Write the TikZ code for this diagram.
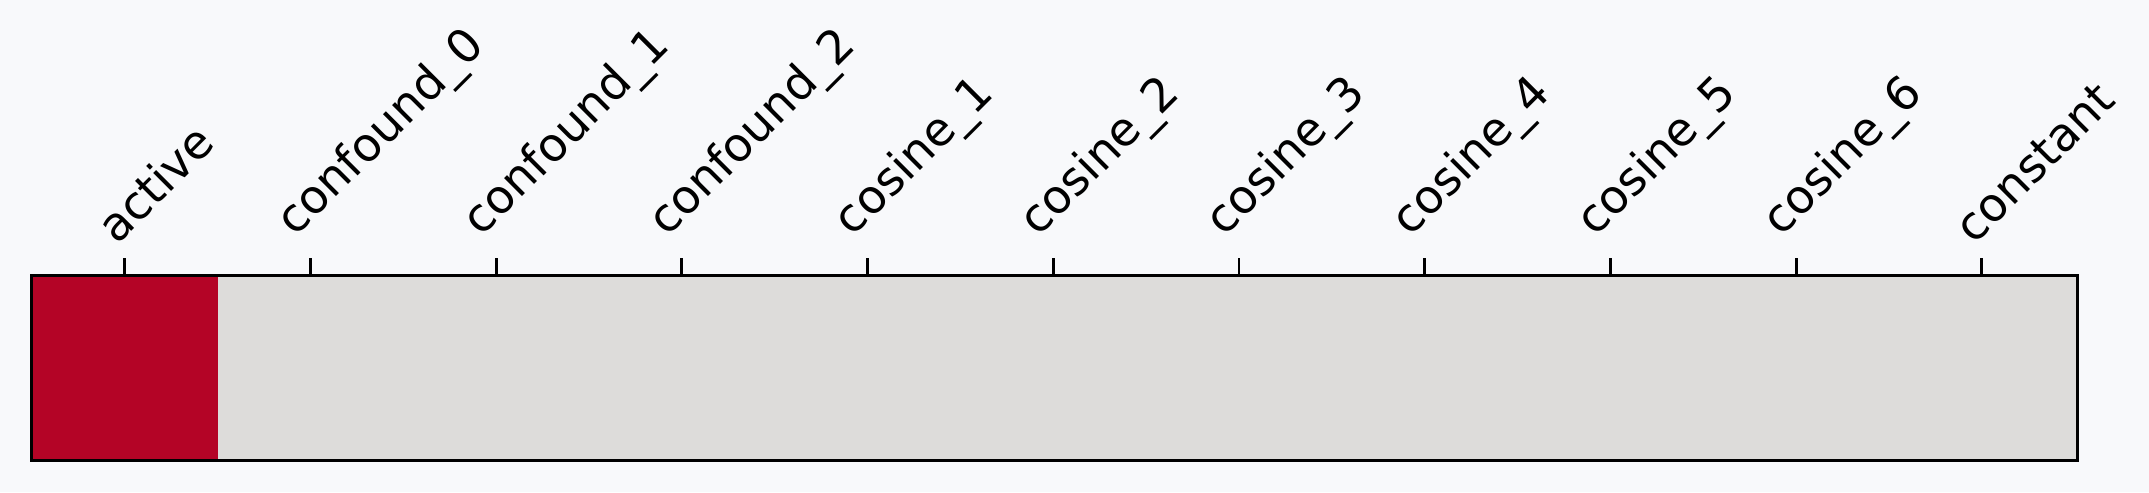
\documentclass[tikz,border=0pt]{standalone}
\usepackage{fontspec}
\setmainfont{DejaVu Sans}
\usetikzlibrary{calc}
\definecolor{bgcol}{HTML}{F8F9FB}
\definecolor{hot}{HTML}{B40426}
\definecolor{cold}{HTML}{DDDCDA}
\tikzset{
  ticklabel/.style={rotate=45, anchor=south west, inner sep=0pt, font=\fontsize{13.2}{15}\selectfont}
}
\begin{document}
\begin{tikzpicture}[x=0.0137cm, y=-0.0137cm]
        \fill[bgcol] (0, 0) rectangle (1568, 359);
        \useasboundingbox (0, 0) rectangle (1568, 359);

        % Cells:
        \fill[cold] (22, 200) rectangle (1515, 335);
        \fill[hot] (22, 200) rectangle (159, 335);
        \node[draw, line width=0.8pt, inner sep=0, minimum width=1493*0.0137cm, minimum height=135*0.0137cm, anchor=north west] (frame) at (22, 200) {};

        % Ticks and labels:
        \foreach \lbl [count=\i from 0] in {active, confound\_0, confound\_1, confound\_2, cosine\_1, cosine\_2, cosine\_3, cosine\_4, cosine\_5, cosine\_6, constant} {
          \coordinate (t\i) at (91+135.5*\i, 200);
          \draw[line width=0.8pt] (t\i) -- ++(0, -12);
          \node[ticklabel] (l\i) at ($(t\i)+(-5, -20)$) {\lbl};
        }
    \end{tikzpicture}
\end{document}
